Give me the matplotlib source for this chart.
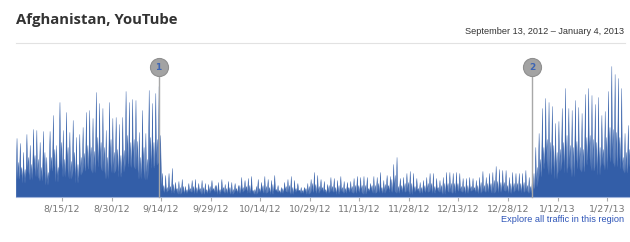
"""Traffico YouTube in Afghanistan: serie giornaliera con due eventi marcati."""
import matplotlib

matplotlib.use("Agg")
import matplotlib.pyplot as plt
import numpy as np
import pandas as pd

start = pd.Timestamp("2012-08-01")

# picco giornaliero (altezza, unita' arbitrarie)
peaks = [
    59, 54, 45, 63, 52, 68, 67, 55, 66, 40, 66, 82, 52, 95, 67, 85, 65, 77, 60, 63,
    70, 85, 87, 79, 105, 94, 89, 67, 95, 79, 80, 73, 80,
    106, 95, 98, 97, 65, 87, 64, 107, 94, 104, 111,
    24, 22, 24, 29, 15, 16, 18, 11, 14, 17, 18, 14, 17, 14, 13, 17, 12, 15, 18, 13, 16,
    15, 14, 12, 20, 17, 19, 21, 8, 18, 15, 21, 18, 17, 22, 12, 10, 15, 18, 21, 17,
    14, 10, 10, 14, 18, 25, 22, 18, 16, 13, 20, 19, 17, 21, 16, 15, 16, 19, 21, 20,
    21, 20, 14, 21, 20, 25, 17, 22, 21, 33, 40, 19, 20, 24, 26, 24, 19, 15, 17,
    20, 24, 24, 19, 17, 20, 25, 25, 24, 25, 24, 19, 19, 20, 19, 17, 20, 26, 20, 24,
    25, 31, 28, 27, 27, 20, 25, 24, 24, 24, 27, 20, 19, 50, 64,
    89, 99, 95, 91, 74, 76, 89, 109, 89, 87, 97, 90, 84, 103, 109, 102, 93, 100, 82, 86,
    106, 131, 123, 119, 109, 64, 72,
]

# picco secondario di ogni giorno
mids = [
    35, 30, 28, 40, 33, 42, 38, 30, 45, 25, 40, 48, 30, 55, 38, 50, 36, 45, 33, 40,
    44, 52, 50, 46, 60, 55, 50, 40, 58, 45, 48, 42, 47, 62, 55, 58, 56, 40, 50, 38,
    60, 55, 58, 62,
    12, 10, 11, 13, 9, 10, 11, 8, 9, 11, 10, 9, 10, 8, 11, 9, 12, 8, 10, 9,
    10, 8, 9, 12, 10, 11, 12, 7, 11, 9, 12, 11, 10, 13, 8, 7, 9, 11, 12, 10,
    9, 7, 7, 9, 11, 14, 13, 11, 10, 8, 12, 11, 10, 12, 10, 9, 10, 11, 12, 12,
    12, 12, 9, 12, 12, 14, 10, 13, 12, 18, 22, 11, 12, 14, 15, 14, 11, 9, 10,
    12, 14, 14, 11, 10, 12, 14, 14, 14, 14, 14, 11, 11, 12, 11, 10, 12, 15, 12, 14,
    14, 17, 16, 15, 15, 12, 14, 14, 14, 14, 15, 12, 11, 24,
    30, 38, 50, 58, 55, 52, 45, 48, 55, 62, 52, 50, 56, 50, 48, 60, 62, 58, 55, 50,
    48, 60, 70, 68, 65, 60, 40, 45, 48,
]

# livello di fondo giornaliero (parte scura sotto i picchi)
lows = [
    18, 22, 14, 25, 17, 28, 20, 16, 24, 12, 26, 30, 15, 33, 20, 27, 18, 25, 14, 22,
    26, 30, 28, 24, 35, 30, 26, 18, 32, 24, 27, 20, 25, 34, 30, 31, 28, 18, 26, 17,
    33, 29, 32, 35,
    6, 5, 7, 4, 6, 3, 5, 4, 6, 5, 4, 6, 3, 5, 4, 7, 5, 3, 6, 4,
    5, 3, 6, 4, 5, 7, 4, 6, 3, 5, 6, 4, 5, 3, 7, 5, 4, 6, 5, 3,
    5, 7, 4, 6, 3, 5, 6, 4, 7, 5, 4, 6, 5, 3, 6, 4, 7, 5, 4, 6,
    5, 3, 6, 7, 4, 5, 6, 4, 8, 5, 6, 4, 7, 5, 6, 3, 5, 7, 4, 6,
    5, 6, 4, 7, 5, 3, 6, 5, 4, 7, 6, 5, 4, 6, 7, 5, 4, 6, 5, 7,
    4, 6, 5, 7, 6, 4, 5, 7, 6, 5, 6, 4, 8,
    10, 20, 28, 35, 22, 30, 18, 26, 34, 24, 30, 20, 36, 28, 25, 32, 38, 26, 30, 22,
    33, 27, 40, 35, 30, 38, 28, 24, 30,
]

events = ["2012-09-13", "2013-01-04"]
event_labels = ["1", "2"]
tick_dates = pd.date_range("2012-08-15", periods=12, freq="15D")

BLUE = "#335ea8"

# ogni giorno: fondo -> picco -> fondo -> picco secondario -> fondo
days = np.arange(len(peaks))
offsets = [0.0, 0.25, 0.45, 0.7, 0.85]
xs = np.concatenate([days[:, None] + np.array(offsets)[None, :]], axis=0).ravel()
ys = np.column_stack([lows, peaks, lows, mids, lows]).ravel()

fig = plt.figure(figsize=(6.3, 2.42), dpi=100)
ax = fig.add_axes([15.7 / 630, 45 / 242, (629 - 15.7) / 630, 147 / 242])
ax.fill_between(xs, 0, ys, color=BLUE, linewidth=0.3, edgecolor=BLUE)
ax.set_xlim(0, 185.6)
ax.set_ylim(0, 147)

for name in ("top", "left", "right"):
    ax.spines[name].set_visible(False)
ax.spines["bottom"].set_color("#9fb3db")
ax.spines["bottom"].set_linewidth(0.8)
ax.spines["bottom"].set_zorder(5)
ax.set_yticks([])

tick_pos = [(d - start).days for d in tick_dates]
ax.set_xticks(tick_pos)
ax.set_xticklabels([f"{d.month}/{d.day}/{d.strftime('%y')}" for d in tick_dates])
ax.tick_params(axis="x", length=3, width=0.8, color="#aaaaaa", labelsize=6.8,
               labelcolor="#777777", pad=2.5)

for ev, lab in zip(events, event_labels):
    x = (pd.Timestamp(ev) - start).days + 0.25
    ax.plot([x, x], [0, 122], color="#a8a8a8", lw=1, zorder=6, clip_on=False)
    ax.plot([x], [130], marker="o", markersize=13, markerfacecolor="#a3a3a3",
            markeredgecolor="#8f8f8f", markeredgewidth=0.8, zorder=7, clip_on=False)
    ax.text(x, 130, lab, ha="center", va="center", fontsize=6.5, fontweight="bold",
            color="#3c64b4", zorder=8)

fig.text(16 / 630, 1 - 20 / 242, "Afghanistan, YouTube", fontsize=10.7, fontweight="bold",
         family="Open Sans", color="#333333", va="center", ha="left")
fig.text(624 / 630, 1 - 31 / 242, "September 13, 2012 \u2013 January 4, 2013", fontsize=6.6,
         family="Liberation Sans", color="#333333", va="center", ha="right")
fig.add_artist(plt.Line2D([16 / 630, 625 / 630], [1 - 42.5 / 242, 1 - 42.5 / 242],
                          color="#e2e2e2", lw=0.8))
fig.text(624 / 630, 1 - 219 / 242, "Explore all traffic in this region", fontsize=6.6,
         family="Liberation Sans", color="#2e55b8", va="center", ha="right")

fig.savefig("out.png", dpi=100)
plt.close(fig)
